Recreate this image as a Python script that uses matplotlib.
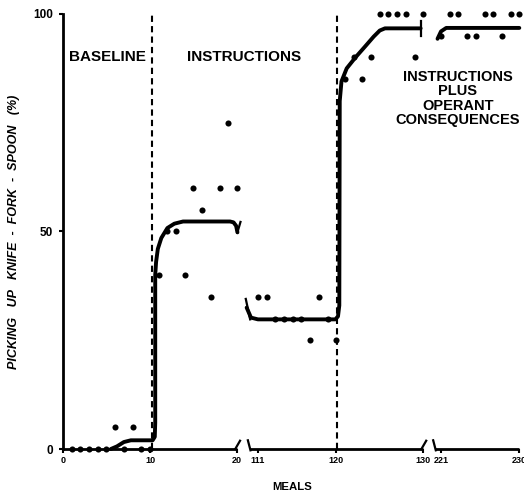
import numpy as np
import matplotlib
matplotlib.use("Agg")
import matplotlib.pyplot as plt

# ---------------- data ----------------
meals_a = list(range(1, 21))
pct_a = [0, 0, 0, 0, 0, 5, 0, 5, 0, 0, 40, 50, 50, 40, 60, 55, 35, 60, 75, 60]
meals_b = list(range(111, 131))
pct_b = [35, 35, 30, 30, 30, 30, 25, 35, 30, 25,
         85, 90, 85, 90, 100, 100, 100, 100, 90, 100]
meals_c = list(range(221, 231))
pct_c = [95, 100, 100, 95, 95, 100, 100, 95, 100, 100]

# hand-fitted trend lines
trend_a_x = [5.5, 6.2, 7.0, 7.8, 10.3, 10.55, 10.6, 10.6, 10.7, 10.9, 11.3, 12.0, 12.8, 13.8, 19.2, 19.6, 19.9, 20.05]
trend_a_y = [0, 0.6, 1.6, 2.0, 2.0, 2.8, 6, 40, 43, 46, 48.5, 50.8, 51.8, 52.3, 52.3, 52.1, 51.3, 49.8]
trend_b_x = [109.7, 110.2, 111.0, 119.9, 120.2, 120.35, 120.4, 120.6, 121.2, 122.2, 123.3, 124.3, 125.0, 125.6, 129.7]
trend_b_y = [32.5, 30.2, 29.8, 29.8, 30.5, 33, 80, 84.5, 87.5, 90, 92.5, 94.8, 96.2, 96.7, 96.7]
trend_c_x = [220.6, 221.0, 221.6, 230.0]
trend_c_y = [94.3, 96.0, 96.8, 96.8]

phase_lines = [10.2, 120.05]
x_ticks = [0, 10, 20, 111, 120, 130, 221, 230]
y_ticks = [0, 50, 100]
phase_labels = ["BASELINE", "INSTRUCTIONS", "INSTRUCTIONS\nPLUS\nOPERANT\nCONSEQUENCES"]

# broken x-axis: three meal ranges laid side by side
def pos(m):
    m = np.asarray(m, dtype=float)
    return np.where(m < 60, m, np.where(m < 200, m - 88.59, m - 177.55))

FONT = "Liberation Sans"
plt.rcParams["font.family"] = [FONT, "DejaVu Sans"]

fig = plt.figure(figsize=(5.24, 4.96), dpi=100)
ax = fig.add_axes([63 / 524, 47 / 496, 457 / 524, 435 / 496])
ax.set_xlim(0, 52.53)
ax.set_ylim(0, 100)

for s in ["top", "right", "bottom"]:
    ax.spines[s].set_visible(False)
ax.spines["left"].set_linewidth(2)

K = "black"
# bottom axis pieces with break marks
ax.plot([0, 19.95], [0, 0], color=K, lw=2, clip_on=False, solid_capstyle="butt")
ax.plot([19.8, 20.35], [0, 1.9], color=K, lw=1.6, clip_on=False)
ax.plot([21.25, 21.55], [2.0, -0.3], color=K, lw=1.6, clip_on=False)
ax.plot([21.5, 41.35], [0, 0], color=K, lw=2, clip_on=False, solid_capstyle="butt")
ax.plot([41.2, 41.75], [0, 1.9], color=K, lw=1.6, clip_on=False)
ax.plot([42.55, 42.85], [2.0, -0.3], color=K, lw=1.6, clip_on=False)
ax.plot([42.8, 52.45], [0, 0], color=K, lw=2, clip_on=False, solid_capstyle="butt")

# phase change lines
for m in phase_lines:
    p = float(pos(m))
    ax.plot([p, p], [0, 100], color=K, lw=1.5, ls=(0, (3, 2)), clip_on=False)

# trend lines
ax.plot(pos(trend_a_x), trend_a_y, color=K, lw=2.8, solid_capstyle="round", clip_on=False)
ax.plot(pos([20.05, 20.4]), [49.8, 52.2], color=K, lw=1.6, clip_on=False)
ax.plot(pos(trend_b_x), trend_b_y, color=K, lw=2.8, solid_capstyle="round", clip_on=False)
ax.plot(pos([109.6, 110.1]), [34.5, 29.8], color=K, lw=1.6, clip_on=False)
ax.plot(pos([129.7, 129.7]), [95.0, 98.5], color=K, lw=1.6, clip_on=False)
ax.plot(pos(trend_c_x), trend_c_y, color=K, lw=2.8, solid_capstyle="round", clip_on=False)

# data points
for mx, py in [(meals_a, pct_a), (meals_b, pct_b), (meals_c, pct_c)]:
    ax.plot(pos(mx), py, "o", color=K, ms=4.4, mew=0, clip_on=False, zorder=5)

# ticks
ax.set_xticks(pos(x_ticks))
ax.set_xticklabels([str(t) for t in x_ticks], fontsize=6.5, fontweight="bold")
ax.set_yticks(y_ticks)
ax.set_yticklabels([str(t) for t in y_ticks], fontsize=8.5, fontweight="bold")
ax.tick_params(axis="x", direction="out", length=3, width=1.5, pad=2)
ax.tick_params(axis="y", direction="out", length=3, width=1.5, pad=4)

# phase labels
ax.text(float(pos(0.69)), 90.1, phase_labels[0], fontsize=11, fontweight="bold",
        ha="left", va="center")
ax.text(float(pos(14.25)), 90.1, phase_labels[1], fontsize=11, fontweight="bold",
        ha="left", va="center")
ax.text(45.4, 80.6, phase_labels[2], fontsize=10.5, fontweight="bold",
        ha="center", va="center", linespacing=1.03)

# axis titles
fig.text(14 / 524, 1 - 232 / 496, "PICKING   UP   KNIFE  -  FORK  -  SPOON   (%)",
         rotation=90, fontsize=9, fontweight="bold", fontstyle="italic",
         ha="center", va="center")
fig.text(292 / 524, 1 - 487 / 496, "MEALS", fontsize=8.2, fontweight="bold",
         ha="center", va="center")

fig.savefig("out.png", dpi=100)
